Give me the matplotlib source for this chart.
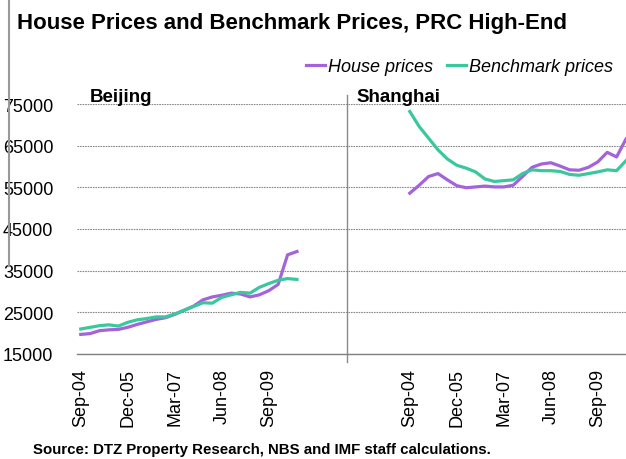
import matplotlib
matplotlib.use('Agg')
import matplotlib.pyplot as plt
from matplotlib.lines import Line2D
import numpy as np

plt.rcParams['font.family'] = ['Liberation Sans', 'DejaVu Sans']

# quarterly data, Sep-04 .. Jun-10
beijing_house = [19700, 19900, 20600, 20800, 20900, 21400, 22100, 22700, 23300, 23700,
                 24500, 25500, 26500, 28000, 28700, 29100, 29600, 29400, 28700, 29200,
                 30200, 31700, 38800, 39600]
beijing_bench = [21000, 21400, 21800, 22000, 21700, 22600, 23200, 23500, 23900, 23900,
                 24600, 25500, 26400, 27300, 27200, 28600, 29200, 29800, 29600, 31000,
                 31900, 32700, 33100, 32900]
shanghai_house = [53600, 55500, 57600, 58300, 56800, 55400, 54900, 55100, 55300, 55100,
                  55100, 55500, 57600, 59800, 60600, 60900, 60100, 59200, 59100, 59800,
                  61100, 63400, 62300, 66600]
shanghai_bench = [73200, 69600, 66800, 64000, 61800, 60300, 59600, 58700, 57000, 56400,
                  56600, 56800, 58300, 59200, 59000, 59000, 58800, 58100, 57900, 58300,
                  58700, 59200, 59000, 61400]
tick_labels = ['Sep-04', 'Dec-05', 'Mar-07', 'Jun-08', 'Sep-09']
gap = 11  # empty categories between the two cities

purple = '#A463DB'
green = '#3BC79E'

n = len(beijing_house)
bj_x = np.arange(n)
sh_x = np.arange(n) + n + gap

fig = plt.figure(figsize=(6.26, 4.6), dpi=100)
ax = fig.add_axes([77 / 626, 105 / 460, 1 - 77 / 626, 250 / 460])

ax.plot(bj_x, beijing_house, color=purple, lw=2.3, label='House prices')
ax.plot(bj_x, beijing_bench, color=green, lw=2.3, label='Benchmark prices')
ax.plot(sh_x, shanghai_house, color=purple, lw=2.3)
ax.plot(sh_x, shanghai_bench, color=green, lw=2.3)

ax.set_xlim(-0.4, 58.0)
ax.set_ylim(15000, 75000)
ax.set_yticks(range(15000, 75001, 10000))
ax.yaxis.grid(True, color='#8a8a8a', lw=0.8, linestyle=(0, (1.5, 0.8)))
ax.set_axisbelow(True)

ticks = list(bj_x[::5]) + list(sh_x[::5])
ax.set_xticks(ticks)
ax.set_xticklabels(tick_labels * 2, rotation=90, fontsize=13)
ax.tick_params(axis='x', length=0, pad=10)
ax.tick_params(axis='y', length=0, pad=17, labelsize=13)

for s in ['top', 'right', 'left']:
    ax.spines[s].set_visible(False)
ax.spines['bottom'].set_color('#808080')
ax.spines['bottom'].set_linewidth(1.0)

# separator between the two panels
ax.plot([28.3, 28.3], [13100, 77100], color='#8a8a8a', lw=1.0, clip_on=False)

fig.text(90 / 626, (460 - 102) / 460, 'Beijing', fontsize=13.5, fontweight='bold', va='baseline')
fig.text(356 / 626, (460 - 102) / 460, 'Shanghai', fontsize=13.5, fontweight='bold', va='baseline')

fig.text(17 / 626, (460 - 29) / 460, 'House Prices and Benchmark Prices, PRC High-End',
         fontsize=16, fontweight='bold', va='baseline')

fig.legend(loc='center right', bbox_to_anchor=(613 / 626, (460 - 68) / 460), ncol=2,
           frameon=False, prop={'style': 'italic', 'size': 13}, handlelength=1.05,
           handletextpad=0.15, columnspacing=0.8, borderpad=0, borderaxespad=0)

fig.text(33 / 626, (460 - 454) / 460,
         'Source: DTZ Property Research, NBS and IMF staff calculations.',
         fontsize=10.8, fontweight='bold', va='baseline')

fig.add_artist(Line2D([9 / 626, 9 / 626], [1, (460 - 267) / 460], color='#999999', lw=1.5))

fig.savefig('out.png', dpi=100)
